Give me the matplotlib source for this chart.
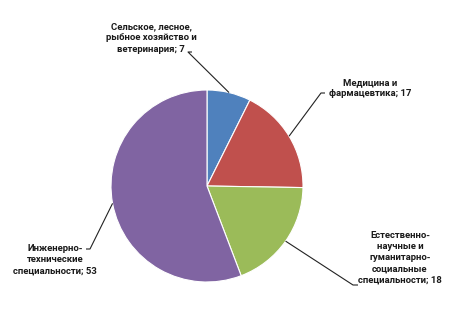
import numpy as np
import matplotlib.pyplot as plt

labels = ["Сельское, лесное,\nрыбное хозяйство и\nветеринария",
          "Медицина и\nфармацевтика",
          "Естественно-\nнаучные и\nгуманитарно-\nсоциальные\nспециальности",
          "Инженерно-\nтехнические\nспециальности"]
values = [7, 17, 18, 53]
colors = ["#4F81BD", "#C0504D", "#9BBB59", "#8064A2"]

W, H = 454, 319
fig = plt.figure(figsize=(W / 100, H / 100), dpi=100)
ax = fig.add_axes([0, 0, 1, 1])

cx, cy, r = 207, H - 186, 96
wedges, _ = ax.pie(values, colors=colors, startangle=90, counterclock=False,
                   center=(cx, cy), radius=r,
                   wedgeprops=dict(edgecolor="white", linewidth=0.8))

# label text position (center) and elbow point of the leader line, in image px
label_pos = [(151, 38), (370, 88), (400, 258), (55, 260)]
elbows = [[(188, 52), (192, 52)],
          [(321, 93), (325, 93)],
          [(353, 285), (358, 285)],
          [(90, 249), (86, 249)]]

for w, lab, v, (tx, ty), el in zip(wedges, labels, values, label_pos, elbows):
    mid = np.deg2rad((w.theta1 + w.theta2) / 2)
    ex, ey = cx + r * np.cos(mid), cy + r * np.sin(mid)
    xs = [ex] + [p[0] for p in el]
    ys = [ey] + [H - p[1] for p in el]
    ax.plot(xs, ys, color="#222222", lw=0.8, solid_capstyle="butt")
    ax.text(tx, H - ty, f"{lab}; {v}", ha="center", va="center",
            multialignment="center", fontsize=6.8, linespacing=1.3,
            family=["Roboto", "DejaVu Sans"], fontweight="bold", color="#1a1a1a")

ax.set_xlim(0, W)
ax.set_ylim(0, H)
ax.set_aspect("auto")
ax.axis("off")
fig.savefig("out.png", dpi=100, facecolor="white")
